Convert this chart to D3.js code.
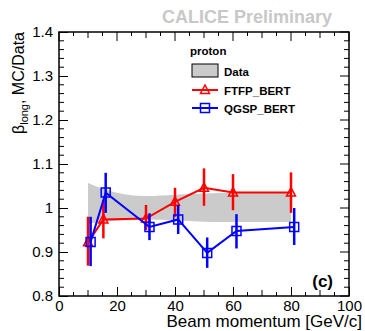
<!DOCTYPE html>
<html>
<head>
<meta charset="utf-8">
<script src="https://cdn.jsdelivr.net/npm/d3@7"></script>
<style>
  body { margin: 0; background: #fff; }
  text { font-family: "Liberation Sans", Arial, sans-serif; }
  .axis path { display: none; }
  .axis line { stroke: #000; stroke-width: 1; }
</style>
</head>
<body>
<svg class="chart"></svg>
<script>
// -------------------- Data --------------------
var momentum = [10, 15, 30, 40, 50, 60, 80];

// FTFP_BERT ratio and error bar ends
var ftfpX = [10, 15.3, 30, 40, 50, 60, 80];
var ftfp = [0.922, 0.974, 0.976, 1.014, 1.046, 1.035, 1.035];
var ftfpLo = [0.869, 0.931, 0.950, 0.980, 1.005, 0.995, 0.989];
var ftfpHi = [0.980, 1.018, 1.007, 1.046, 1.090, 1.077, 1.081];

// QGSP_BERT ratio, shifted slightly in x
var qgspX = [10.9, 16.1, 31.2, 41.1, 51.1, 61.2, 81.1];
var qgsp = [0.923, 1.035, 0.957, 0.974, 0.898, 0.948, 0.957];
var qgspLo = [0.868, 0.989, 0.927, 0.941, 0.864, 0.908, 0.916];
var qgspHi = [0.980, 1.080, 0.988, 1.007, 0.933, 0.986, 1.000];

// Data uncertainty band
var bandTop = [1.057, 1.044, 1.027, 1.030, 1.033, 1.034, 1.034];
var bandBot = [0.964, 0.968, 0.974, 0.972, 0.969, 0.968, 0.968];

var xTicks = [0, 20, 40, 60, 80, 100];
var yTicks = [0.8, 0.9, 1.0, 1.1, 1.2, 1.3, 1.4];

// -------------------- Settings --------------------
var margin = {top: 32, right: 16, bottom: 35, left: 59}
  , width = 365 - margin.left - margin.right
  , height = 331 - margin.top - margin.bottom;

var svg = d3.select(".chart")
  .attr("width", 365)
  .attr("height", 331);

var chart = svg.append("g")
  .attr("transform", "translate(" + margin.left + "," + margin.top + ")");

// -------------------- Scales --------------------
var x = d3.scaleLinear().domain([0, 100]).range([0, width]);
var y = d3.scaleLinear().domain([0.8, 1.4]).range([height, 0]);

// -------------------- Band --------------------
var band = d3.area()
  .x(function(d, i) { return x(momentum[i]); })
  .y0(function(d, i) { return y(bandBot[i]); })
  .y1(function(d, i) { return y(bandTop[i]); })
  .curve(d3.curveMonotoneX);

chart.append("path")
  .datum(momentum)
  .attr("d", band)
  .attr("fill", "#cbcbcb");

// -------------------- Axes --------------------
var xMinor = d3.range(5, 100, 5).filter(function(v) { return v % 20 !== 0; });
var yMinor = d3.range(0, 31).map(function(i) { return +(0.8 + i * 0.02).toFixed(2); })
  .filter(function(v) { return Math.round(v * 100) % 10 !== 0; });

function minorLen(v) { return v % 10 === 0 ? -6 : -4; }

// bottom
var gx = chart.append("g").attr("class", "axis")
  .attr("transform", "translate(0," + height + ")")
  .call(d3.axisBottom(x).tickValues(xTicks).tickSizeInner(-9).tickSizeOuter(0)
    .tickPadding(4).tickFormat(d3.format("d")));
gx.selectAll("text").attr("font-size", 15).attr("fill", "#000");
gx.selectAll("line").attr("y1", 0);

chart.append("g")
  .selectAll("line").data(xMinor).enter().append("line")
    .attr("x1", function(d) { return x(d); })
    .attr("x2", function(d) { return x(d); })
    .attr("y1", height)
    .attr("y2", function(d) { return height + minorLen(d); })
    .attr("stroke", "#000");

// top
chart.append("g")
  .selectAll("line").data(xTicks.concat(xMinor)).enter().append("line")
    .attr("x1", function(d) { return x(d); })
    .attr("x2", function(d) { return x(d); })
    .attr("y1", 0)
    .attr("y2", function(d) { return d % 20 === 0 ? 9 : -minorLen(d); })
    .attr("stroke", "#000");

// left
var gy = chart.append("g").attr("class", "axis")
  .call(d3.axisLeft(y).tickValues(yTicks).tickSizeInner(-9).tickSizeOuter(0)
    .tickPadding(7).tickFormat(function(d) { return d === 1 ? "1" : d3.format(".1f")(d); }));
gy.selectAll("text").attr("font-size", 15).attr("fill", "#000").attr("x", -6);

chart.append("g")
  .selectAll("line").data(yMinor).enter().append("line")
    .attr("x1", 0)
    .attr("x2", 5)
    .attr("y1", function(d) { return y(d); })
    .attr("y2", function(d) { return y(d); })
    .attr("stroke", "#000");

// right
chart.append("g")
  .selectAll("line").data(yTicks.concat(yMinor)).enter().append("line")
    .attr("x1", width)
    .attr("x2", function(d) { return yTicks.indexOf(d) >= 0 ? width - 9 : width - 5; })
    .attr("y1", function(d) { return y(d); })
    .attr("y2", function(d) { return y(d); })
    .attr("stroke", "#000");

// frame
chart.append("rect")
  .attr("width", width)
  .attr("height", height)
  .attr("fill", "none")
  .attr("stroke", "#000")
  .attr("stroke-width", 1.5);

// -------------------- Series --------------------
function drawSeries(xs, ys, lo, hi, color, marker) {
  var pts = xs.map(function(v, i) { return {x: v, y: ys[i], lo: lo[i], hi: hi[i]}; });
  var g = chart.append("g");

  g.selectAll(".err").data(pts).enter().append("line")
    .attr("x1", function(d) { return x(d.x); })
    .attr("x2", function(d) { return x(d.x); })
    .attr("y1", function(d) { return y(d.lo); })
    .attr("y2", function(d) { return y(d.hi); })
    .attr("stroke", color)
    .attr("stroke-width", 2.5);

  g.append("path")
    .datum(pts)
    .attr("d", d3.line().x(function(d) { return x(d.x); }).y(function(d) { return y(d.y); }))
    .attr("fill", "none")
    .attr("stroke", color)
    .attr("stroke-width", 2);

  g.selectAll(".mk").data(pts).enter().append("path")
    .attr("transform", function(d) { return "translate(" + x(d.x) + "," + y(d.y) + ")"; })
    .attr("d", marker)
    .attr("fill", "none")
    .attr("stroke", color)
    .attr("stroke-width", 1.5);
}

var triangle = "M0,-5L4.5,3.5L-4.5,3.5Z";
var square = "M-4.5,-4.5H4.5V4.5H-4.5Z";

drawSeries(ftfpX, ftfp, ftfpLo, ftfpHi, "#ff0000", triangle);
drawSeries(qgspX, qgsp, qgspLo, qgspHi, "#0000ff", square);

// -------------------- Legend --------------------
var leg = svg.append("g").attr("font-weight", "bold").attr("font-size", 11.5);

leg.append("text").attr("x", 190).attr("y", 55).text("proton");

leg.append("rect")
  .attr("x", 192).attr("y", 64).attr("width", 26).attr("height", 13)
  .attr("fill", "#cbcbcb").attr("stroke", "#000").attr("stroke-width", 1);
leg.append("text").attr("x", 224).attr("y", 76).text("Data");

leg.append("line").attr("x1", 192).attr("x2", 218).attr("y1", 90).attr("y2", 90)
  .attr("stroke", "#ff0000").attr("stroke-width", 2);
leg.append("path").attr("transform", "translate(205,90)").attr("d", triangle)
  .attr("fill", "none").attr("stroke", "#ff0000").attr("stroke-width", 1.5);
leg.append("text").attr("x", 224).attr("y", 95).text("FTFP_BERT");

leg.append("line").attr("x1", 192).attr("x2", 218).attr("y1", 108).attr("y2", 108)
  .attr("stroke", "#0000ff").attr("stroke-width", 2);
leg.append("path").attr("transform", "translate(205,108)").attr("d", square)
  .attr("fill", "none").attr("stroke", "#0000ff").attr("stroke-width", 1.5);
leg.append("text").attr("x", 224).attr("y", 113).text("QGSP_BERT");

// -------------------- Labels --------------------
svg.append("text")
  .attr("x", 332).attr("y", 23)
  .attr("text-anchor", "end")
  .attr("font-size", 18)
  .attr("font-weight", "bold")
  .attr("fill", "#c8c8c8")
  .text("CALICE Preliminary");

svg.append("text")
  .attr("x", 333).attr("y", 287)
  .attr("text-anchor", "end")
  .attr("font-size", 17)
  .attr("font-weight", "bold")
  .text("(c)");

svg.append("text")
  .attr("x", 362).attr("y", 327)
  .attr("text-anchor", "end")
  .attr("font-size", 17)
  .text("Beam momentum [GeV/c]");

var yt = svg.append("text")
  .attr("transform", "translate(24,32) rotate(-90)")
  .attr("text-anchor", "end")
  .attr("font-size", 16);
yt.append("tspan").text("\u03B2");
yt.append("tspan").attr("font-size", 11).attr("dy", 4).text("long");
yt.append("tspan").attr("dy", -4).text(", MC/Data");
</script>
</body>
</html>
